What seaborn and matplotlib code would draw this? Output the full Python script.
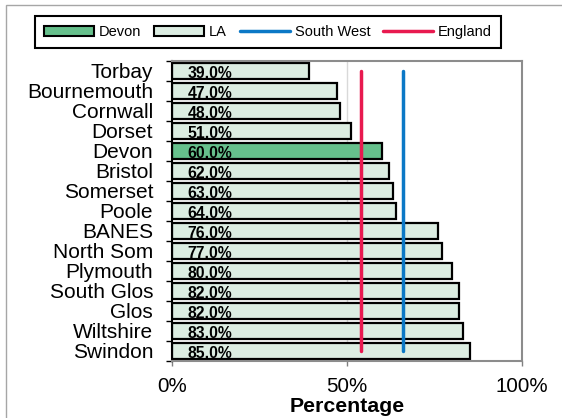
import matplotlib
matplotlib.use("Agg")
import matplotlib.pyplot as plt
from matplotlib.patches import Patch, Rectangle
from matplotlib.lines import Line2D
import seaborn as sns
import pandas as pd

# data, top to bottom as in the chart
areas = ["Torbay", "Bournemouth", "Cornwall", "Dorset", "Devon", "Bristol", "Somerset",
         "Poole", "BANES", "North Som", "Plymouth", "South Glos", "Glos", "Wiltshire", "Swindon"]
pct = [39, 47, 48, 51, 60, 62, 63, 64, 76, 77, 80, 82, 82, 83, 85]
south_west = 66
england = 54

DEVON_C = "#66c08c"
LA_C = "#dcede2"
SW_C = "#0b78c6"
ENG_C = "#e8194f"

sns.set_style("white")
plt.rcParams["font.family"] = ["Liberation Sans", "DejaVu Sans"]
plt.rcParams.update({"text.color": "black", "axes.labelcolor": "black",
                     "xtick.color": "black", "ytick.color": "black"})

df = pd.DataFrame({"area": areas, "pct": pct})
pal = {a: (DEVON_C if a == "Devon" else LA_C) for a in areas}

fig = plt.figure(figsize=(5.62, 4.18), dpi=100)
ax = fig.add_axes([0.306, 0.1364, 0.623, 0.718])

sns.barplot(data=df, x="pct", y="area", hue="area", palette=pal, legend=False,
            orient="h", width=0.8, edgecolor="black", linewidth=1.6, saturation=1, ax=ax, zorder=2)

for i, v in enumerate(pct):
    ax.text(4.5, i + 0.36, f"{v:.1f}%", ha="left", va="baseline", fontsize=11.3,
            fontweight="bold", color="black", zorder=4)

n = len(areas)
ax.plot([england, england], [0, n - 1], color=ENG_C, lw=2.5, solid_capstyle="round", zorder=3)
ax.plot([south_west, south_west], [0, n - 1], color=SW_C, lw=2.5, solid_capstyle="round", zorder=3)

ax.set_xlim(0, 100)
ax.set_ylim(n - 0.5, -0.5)
ax.set_xticks([0, 50, 100])
ax.set_xticklabels(["0%", "50%", "100%"], fontsize=14.8)
ax.axvline(50, color="#d9d9d9", lw=1, zorder=0)

ax.set_yticks(range(n))
ax.set_yticklabels(areas, fontsize=15)
ax.set_yticks([i - 0.5 for i in range(n + 1)], minor=True)
ax.tick_params(axis="y", which="major", length=0, pad=13.5)
ax.tick_params(axis="y", which="minor", length=4.3, width=1, color="black", direction="out", left=True)
ax.tick_params(axis="x", which="major", length=3.5, width=1, color="#808080", direction="out", bottom=True, pad=8)

ax.set_xlabel("Percentage", fontsize=15.3, fontweight="bold", labelpad=1)
ax.set_ylabel("")

for s in ["top", "right", "bottom"]:
    ax.spines[s].set_color("#8c8c8c")
    ax.spines[s].set_linewidth(1.5)
ax.spines["left"].set_color("black")
ax.spines["left"].set_linewidth(1.5)

# outer chart frame (cut by the image edge)
fig.add_artist(Rectangle((6 / 562, -0.2), 1.2, 1.2 - 5 / 418, transform=fig.transFigure,
                         fill=False, edgecolor="#a6a6a6", lw=1))

handles = [
    Patch(facecolor=DEVON_C, edgecolor="black", linewidth=1.5, label="Devon"),
    Patch(facecolor=LA_C, edgecolor="black", linewidth=1.5, label="LA"),
    Line2D([0], [0], color=SW_C, lw=2.5, solid_capstyle="round", label="South West"),
    Line2D([0], [0], color=ENG_C, lw=2.5, solid_capstyle="round", label="England"),
]
leg = fig.legend(handles=handles, loc="center", bbox_to_anchor=(0.477, 0.923), ncol=4,
                 fontsize=10.5, handlelength=3.4, handletextpad=0.35, columnspacing=0.9,
                 borderpad=0.6, fancybox=False, framealpha=1)
leg.get_frame().set_edgecolor("black")
leg.get_frame().set_linewidth(1.5)

fig.savefig("out.png", dpi=100)
